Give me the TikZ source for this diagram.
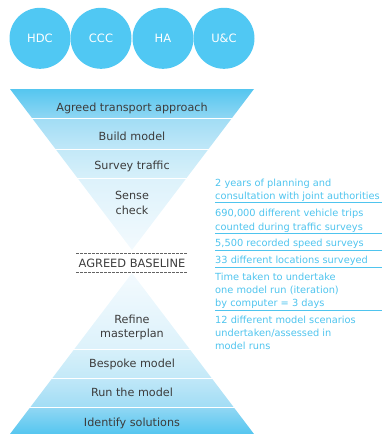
\documentclass[tikz,border=0pt]{standalone}
\usepackage{fontspec}
\setmainfont{DejaVu Sans}
\definecolor{cblue}{RGB}{80,200,243}
\definecolor{tblue}{RGB}{79,196,238}
\definecolor{dgray}{RGB}{60,60,60}
\definecolor{b1t}{RGB}{85,198,240}
\definecolor{b1b}{RGB}{142,214,243}
\definecolor{b2t}{RGB}{162,221,245}
\definecolor{b2b}{RGB}{191,231,248}
\definecolor{b3t}{RGB}{196,233,248}
\definecolor{b3b}{RGB}{214,240,250}
\definecolor{b4t}{RGB}{221,242,251}
\definecolor{b4b}{RGB}{243,250,254}
\begin{document}
\begin{tikzpicture}[x=1pt,y=-1pt,
  circ/.style={circle,fill=cblue,minimum size=61pt,inner sep=0pt,text=white,font=\fontsize{11.5}{13}\selectfont},
  lab/.style={text=dgray,font=\fontsize{11.2}{14.5}\selectfont,anchor=base,inner sep=0pt},
  info/.style={text=tblue,font=\fontsize{9.8}{13.3}\selectfont,anchor=base west,inner sep=0pt},
  sep/.style={draw=tblue,line width=0.9pt},
  dash line/.style={draw=dgray!80,line width=0.9pt,dash pattern=on 2.5pt off 1.5pt}]
\useasboundingbox (0,0) rectangle (382,434);
% circles
\node[circ] (c1) at (40,38.3) {HDC};
\node[circ] (c2) at (101,38.3) {CCC};
\node[circ] (c3) at (163,38.3) {HA};
\node[circ] (c4) at (224,38.3) {U\&C};
% inverted triangle
\begin{scope}
\clip (10,89) -- (254,89) -- (132,250) -- cycle;
\shade[top color=b1t,bottom color=b1b] (0,89) rectangle (264,117.3);
\shade[top color=b2t,bottom color=b2b] (0,119.3) rectangle (264,148);
\shade[top color=b3t,bottom color=b3b] (0,150) rectangle (264,177.3);
\shade[top color=b4t,bottom color=b4b] (0,179.3) rectangle (264,251);
\end{scope}
% upright triangle
\begin{scope}
\clip (132,273) -- (254,434) -- (10,434) -- cycle;
\shade[top color=b4b,bottom color=b4t] (0,272) rectangle (264,348);
\shade[top color=b3b,bottom color=b3t] (0,350) rectangle (264,377.3);
\shade[top color=b2b,bottom color=b2t] (0,379.3) rectangle (264,406.5);
\shade[top color=b1b,bottom color=b1t] (0,408.7) rectangle (264,434);
\end{scope}
% labels
\node[lab] (l1) at (132,111) {Agreed transport approach};
\node[lab] (l2) at (132,140) {Build model};
\node[lab] (l3) at (132,169) {Survey traffic};
\node[lab] (l4a) at (132,199) {Sense};
\node[lab] (l4b) at (132,214) {check};
\node[lab] (l5a) at (132,323) {Refine};
\node[lab] (l5b) at (132,337.5) {masterplan};
\node[lab] (l6) at (132,367) {Bespoke model};
\node[lab] (l7) at (132,396.5) {Run the model};
\node[lab] (l8) at (132,426) {Identify solutions};
% baseline
\coordinate (d1a) at (76,253.5); \coordinate (d1b) at (188,253.5);
\coordinate (d2a) at (76,272); \coordinate (d2b) at (188,272);
\draw[dash line] (d1a) -- (d1b);
\draw[dash line] (d2a) -- (d2b);
\node[lab,font=\fontsize{11.4}{13}\selectfont] (base) at (132,267) {AGREED BASELINE};
% info column
\node[info] (i1) at (215,186.5) {2 years of planning and};
\node[info] (i2) at (215,199.5) {consultation with joint authorities};
\draw[sep] (215,202.5) -- (382,202.5);
\node[info] (i3) at (215,216.5) {690,000 different vehicle trips};
\node[info] (i4) at (215,230) {counted during traffic surveys};
\draw[sep] (215,233) -- (382,233);
\node[info] (i5) at (215,246.3) {5,500 recorded speed surveys};
\draw[sep] (215,250) -- (382,250);
\node[info] (i6) at (215,263.3) {33 different locations surveyed};
\draw[sep] (215,267) -- (382,267);
\node[info] (i7) at (215,280) {Time taken to undertake};
\node[info] (i8) at (215,293.3) {one model run (iteration)};
\node[info] (i9) at (215,306.3) {by computer = 3 days};
\draw[sep] (215,310.3) -- (382,310.3);
\node[info] (i10) at (215,323.3) {12 different model scenarios};
\node[info] (i11) at (215,336.6) {undertaken/assessed in};
\node[info] (i12) at (215,349.6) {model runs};
\end{tikzpicture}
\end{document}
